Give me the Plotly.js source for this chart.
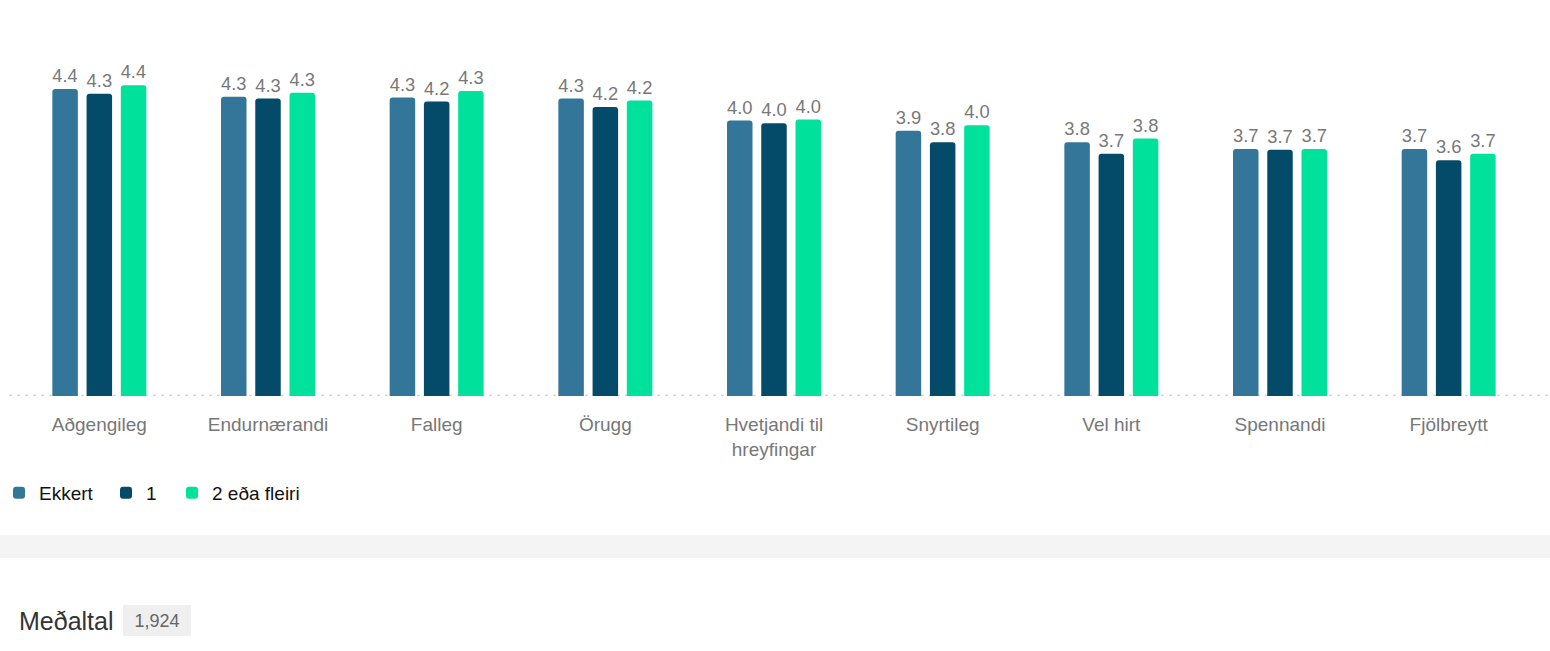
<!DOCTYPE html>
<html>
<head>
<meta charset="utf-8">
<script src="https://cdn.plot.ly/plotly-3.0.1.min.js"></script>
<style>
html,body{margin:0;padding:0;background:#fff;}
#chart{width:1550px;height:651px;}
</style>
</head>
<body>
<div id="chart"></div>
<script>
const categories = ["Aðgengileg","Endurnærandi","Falleg","Örugg","Hvetjandi til hreyfingar","Snyrtileg","Vel hirt","Spennandi","Fjölbreytt"];
const tickLabels = ["Aðgengileg","Endurnærandi","Falleg","Örugg","Hvetjandi til<br>hreyfingar","Snyrtileg","Vel hirt","Spennandi","Fjölbreytt"];
const seriesNames = ["Ekkert","1","2 eða fleiri"];
const valuesEkkert = [4.36, 4.28, 4.27, 4.26, 4.03, 3.92, 3.80, 3.73, 3.73];
const valuesEinn   = [4.31, 4.26, 4.23, 4.17, 4.00, 3.80, 3.68, 3.72, 3.61];
const valuesTveir  = [4.40, 4.32, 4.34, 4.24, 4.04, 3.98, 3.84, 3.73, 3.68];
const sampleSize = "1,924";
const summaryLabel = "Meðaltal";

const colors = ["#34769a","#044b6a","#00e29b"];
const FONT = "Liberation Sans, Arial, sans-serif";

const W = 1550, H = 651;
const mL = 15, mR = 17, mT = 40, mB = H - 396;
const plotH = H - mT - mB;
const plotW = W - mL - mR;
const yMin = 1.129;
const pxPerUnit = 95;
const yMax = yMin + plotH / pxPerUnit;
const py = p => (396 - p) / plotH;      // pixel y -> paper y
const px = p => (p - mL) / plotW;       // pixel x -> paper x

const legendIds = ["legend", "legend2", "legend3"];
const legendLeft = [-1, 106, 172];

const allSeries = [valuesEkkert, valuesEinn, valuesTveir];
const traces = allSeries.map((vals, i) => ({
  type: "bar",
  name: seriesNames[i],
  legend: legendIds[i],
  x: categories,
  y: vals,
  marker: {color: colors[i]},
  texttemplate: "%{y:.1f}",
  textposition: "outside",
  textfont: {family: FONT, size: 19, color: "#787878"},
  cliponaxis: false,
  hoverinfo: "x+y+name"
}));

const layout = {
  width: W, height: H,
  margin: {l: mL, r: mR, t: mT, b: mB, autoexpand: false},
  paper_bgcolor: "#fff",
  plot_bgcolor: "#fff",
  font: {family: FONT, size: 19, color: "#222"},
  barmode: "group",
  bargap: 0.391,
  bargroupgap: 0.255,
  barcornerradius: 3,
  showlegend: true,
  xaxis: {
    type: "category",
    tickvals: categories,
    ticktext: tickLabels,
    showgrid: false, zeroline: false, showline: false,
    ticks: "",
    ticklabelstandoff: 15,
    tickfont: {family: FONT, size: 19, color: "#777"},
    fixedrange: true
  },
  yaxis: {
    range: [yMin, yMax],
    visible: false,
    showgrid: false, zeroline: false,
    fixedrange: true
  },
  shapes: [
    {type: "line", layer: "below", xref: "paper", yref: "y",
     x0: px(9), x1: px(1550), y0: yMin, y1: yMin,
     line: {color: "#d4d4d4", width: 2.5, dash: "3px,5px"}},
    {type: "rect", layer: "below", xref: "paper", yref: "paper",
     x0: px(0), x1: px(1550), y0: py(535), y1: py(558),
     fillcolor: "#f4f4f4", line: {width: 0}}
  ],
  annotations: [
    {xref: "paper", yref: "paper", x: px(17), y: py(621), xanchor: "left", yanchor: "middle",
     text: summaryLabel, showarrow: false, font: {family: FONT, size: 25, color: "#333"}},
    {xref: "paper", yref: "paper", x: px(156.5), y: py(620), xanchor: "center", yanchor: "middle",
     text: sampleSize, showarrow: false, bgcolor: "#efefef", borderpad: 5, borderwidth: 0,
     width: 58, height: 21,
     font: {family: FONT, size: 18, color: "#666"}}
  ]
};

legendIds.forEach((id, i) => {
  layout[id] = {
    orientation: "h",
    x: px(legendLeft[i]), xanchor: "left",
    y: py(474), yanchor: "top",
    font: {family: FONT, size: 19, color: "#111"},
    bgcolor: "rgba(0,0,0,0)",
    itemclick: false, itemdoubleclick: false
  };
});

Plotly.newPlot("chart", traces, layout, {displayModeBar: false});
</script>
</body>
</html>
